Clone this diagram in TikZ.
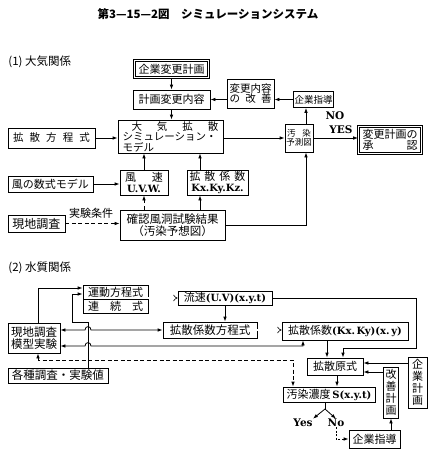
\documentclass[tikz,border=0pt]{standalone}
\usepackage{fontspec}
\setmainfont{DejaVu Serif}
\newfontfamily\jp{Noto Sans CJK JP}
\newfontfamily\lt{DejaVu Serif}
\usetikzlibrary{arrows.meta}
\newcommand\fs[1]{\fontsize{#1}{#1}\selectfont}
\newcommand\LT[1]{{\lt\bfseries #1}}
\begin{document}
\begin{tikzpicture}[x=1pt,y=-1pt,line width=0.8pt,
  bx/.style={draw,inner sep=0.5pt,align=center,font={\jp\fs{11}}},
  dbox/.style={bx,double,double distance=1.4pt,line width=0.7pt},
  arr/.style={-{Latex[length=5pt,width=3.6pt]}},
  barr/.style={{Latex[length=5pt,width=3.6pt]}-{Latex[length=5pt,width=3.6pt]}},
  dbl/.style={double,double distance=1.6pt,line width=0.6pt,-{Implies}},
  dsh/.style={dash pattern=on 4pt off 2.5pt},
  lbl/.style={inner sep=0pt,font={\jp\fs{11}}}]
\useasboundingbox (0,0) rectangle (434,455);

% title and section labels
\node[lbl,font={\jp\bfseries\fs{11.5}}] (title) at (208,14) {第3—15—2図　シミュレーションシステム};
\node[lbl,anchor=west,font={\jp\fs{11.5}}] (s1) at (8,62) {(1) 大気関係};
\node[lbl,anchor=west,font={\jp\fs{11.5}}] (s2) at (8,268) {(2) 水質関係};

% ---------- section 1 ----------
\node[dbox,minimum width=74pt,minimum height=17pt] (kgh) at (171.5,69) {企業変更計画};
\node[bx,minimum width=77pt,minimum height=19pt] (khn) at (171.5,99.5) {計画変更内容};
\node[bx,align=left,minimum width=105pt,minimum height=33pt,font={\jp\fs{10.5}}] (sim) at (170.5,136.5)
  {\hspace*{9pt}\makebox[87pt]{大\hfill 気\hfill 拡\hfill 散}\\シミュレーション・\\モデル};
\node[bx,minimum width=87pt,minimum height=20pt,font={\jp\fs{10.5}}] (kho) at (51.5,138)
  {\makebox[77pt]{拡\hfill 散\hfill 方\hfill 程\hfill 式}};
\node[bx,minimum width=47pt,minimum height=29pt,font={\jp\fs{10.5}}] (hks) at (250.5,93.5)
  {変更内容\\\makebox[42pt]{の\hfill 改\hfill 善}};
\node[bx,minimum width=40pt,minimum height=16pt,font={\jp\fs{9.5}}] (ksd) at (313.5,99.5) {企業指導};
\node[bx,minimum width=28pt,minimum height=28pt,font={\jp\fs{8.5}}] (osy) at (299,138)
  {\makebox[24pt]{汚\hfill 染}\\予測図};
\node[dbox,minimum width=63pt,minimum height=27pt] (hkks) at (390,140)
  {変更計画の\\\makebox[55pt]{承\hfill 認}};
\node[bx,minimum width=48pt,minimum height=25pt] (fusoku) at (144,182.5)
  {\makebox[38pt]{風\hfill 速}\\{\fs{10}\LT{U.V.W.}}};
\node[bx,minimum width=61pt,minimum height=25pt] (kks) at (217.5,182.5)
  {\makebox[56pt]{拡\hfill 散\hfill 係\hfill 数}\\{\fs{10}\LT{Kx.Ky.Kz.}}};
\node[bx,minimum width=85pt,minimum height=16pt] (fsm) at (50.5,184) {風の数式モデル};
\node[bx,minimum width=105pt,minimum height=30pt,font={\jp\fs{11.5}}] (kakunin) at (172.5,225)
  {確認風洞試験結果\\（汚染予想図）};
\node[bx,minimum width=57pt,minimum height=17pt,font={\jp\fs{12}}] (genchi1) at (36.5,223.5) {現地調査};
\node[lbl] (jkj) at (91,213) {実験条件};
\node[lbl,font={\fs{10.5}}] (nolbl) at (335,116) {\LT{NO}};
\node[lbl,font={\fs{10.5}}] (yeslbl) at (341,130) {\LT{YES}};

\draw[arr] (kgh.south) -- (kgh.south |- khn.north);
\draw[arr] (ksd.west) -- (hks.east |- ksd.west);
\draw[arr] (hks.west |- khn.east) -- (khn.east);
\draw[arr] (khn.south) -- (khn.south |- sim.north);
\draw[arr] (kho.east) -- (kho.east -| sim.west);
\draw[arr] (sim.east |- osy.west) -- (osy.west);
\draw[arr] ([xshift=7pt]osy.north) -- ([xshift=7pt]osy.north |- ksd.south);
\draw[arr] (osy.east) -- (osy.east -| hkks.west);
\draw[arr] (fusoku.north) -- (fusoku.north |- sim.south);
\draw[arr] ([xshift=-17.5pt]kks.north) -- ([xshift=-17.5pt]kks.north |- sim.south);
\draw[arr] (fsm.east) -- (fsm.east -| fusoku.west);
\draw[arr,dsh] (fusoku.south |- kakunin.north) -- (fusoku.south);
\draw[arr] ([xshift=-17.5pt]kks.south |- kakunin.north) -- ([xshift=-17.5pt]kks.south);
\draw[arr] (kakunin.east) -| ([xshift=7pt]osy.south);
\draw[arr,dsh] (genchi1.east) -- (genchi1.east -| kakunin.west);

% ---------- section 2 ----------
\node[bx,minimum width=65pt,minimum height=14pt] (undo1) at (115.5,292) {運動方程式};
\node[bx,minimum width=65pt,minimum height=14pt] (renzoku) at (115.5,306)
  {\makebox[55pt]{連\hfill 続\hfill 式}};
\node[bx,minimum width=52pt,minimum height=30pt,font={\jp\fs{11.5}}] (genchi2) at (34,338) {現地調査\\模型実験};
\node[bx,minimum width=100pt,minimum height=15pt,font={\jp\fs{11.5}}] (kakushu) at (58,375.5) {各種調査・実験値};
\node[bx,minimum width=94pt,minimum height=14pt] (ryusoku) at (225,298) {流速{\fs{10}\LT{(U.V)(x.y.t)}}};
\node[bx,minimum width=94pt,minimum height=16pt,font={\jp\fs{11.5}}] (kkh) at (210,330) {拡散係数方程式};
\node[bx,minimum width=126pt,minimum height=18pt] (kkk) at (345,331) {拡散係数{\fs{10}\LT{(Kx.\,Ky)(x.\,y)}}};
\node[bx,minimum width=56pt,minimum height=17pt] (kgs) at (335,366.5) {拡散原式};
\node[bx,minimum width=92pt,minimum height=15pt] (osn) at (329,394.5) {汚染濃度\,{\fs{10}\LT{S(x.y.t)}}};
\node[bx,minimum width=19pt,minimum height=51pt,font={\jp\fs{11}\baselineskip=12pt}] (kgk) at (417.5,382.5) {企\\業\\計\\画};
\node[bx,minimum width=15pt,minimum height=51pt,font={\jp\fs{11}\baselineskip=12pt}] (kzk) at (391,392.5) {改\\善\\計\\画};
\node[bx,minimum width=51pt,minimum height=18pt] (ksd2) at (374.5,439) {企業指導};
\node[lbl,font={\fs{10.5}}] (yes) at (303,423) {\LT{Yes}};
\node[lbl,font={\fs{10.5}}] (no) at (336,423) {\LT{No}};

\coordinate (p1) at (38,288);
\draw[arr] (genchi2.north -| p1) -- (p1) -- (p1 -| undo1.west);
\coordinate (q1) at (88,322);
\coordinate (q2) at (72,322);
\coordinate (q3) at (72,294);
\draw[arr] (kakushu.north -| q1) -- (q1) -- (q2) -- (q3) -- (q3 -| undo1.west);
\draw[barr] (genchi2.east |- kkh.west) -- (85,330) .. controls (85,325.5) and (91,325.5) .. (91,330) -- (kkh.west);
\coordinate (r1) at (303,346);
\draw[barr] (genchi2.east |- r1) -- (85,346) .. controls (85,341.5) and (91,341.5) .. (91,346) -- (r1) -- (r1 |- kkk.south);
\coordinate (d1) at (38,360);
\coordinate (d2) at (293,360);
\draw[barr,dsh] (genchi2.south -| d1) -- (d1) -- (d2) -- (d2 |- osn.north);
\draw[dbl] (renzoku.north east |- ryusoku.west) -- (ryusoku.west);
\draw[arr] (ryusoku.south) -- (ryusoku.south |- kkh.north);
\draw[dbl] (kkh.east) -- (kkh.east -| kkk.west);
\coordinate (e1) at (416,348);
\coordinate (e2) at (343,348);
\draw[arr] (ryusoku.east) -| (e1) -- (e2) -- (e2 |- kgs.north);
\draw[arr] ([xshift=-18pt]kkk.south) -- ([xshift=-18pt]kkk.south |- kgs.north);
\coordinate (f1) at (0,363);
\coordinate (f2) at (0,372);
\draw[arr] (kgk.west |- f1) -- (kgs.east |- f1);
\draw[arr] (kzk.west |- f2) -- (kgs.east |- f2);
\draw[arr] ([xshift=2pt]kgs.south) -- ([xshift=2pt]kgs.south |- osn.north);
\coordinate (fk) at (325,409);
\draw (osn.south -| fk) -- (fk);
\draw[arr] (fk) -- (yes.north east);
\draw[arr] (fk) -- (no.north);
\draw[arr,dash pattern=on 2pt off 1.5pt] (no.south) |- (ksd2.west);
\draw[arr] (ksd2.north -| kzk.south) -- (kzk.south);
\end{tikzpicture}
\end{document}
